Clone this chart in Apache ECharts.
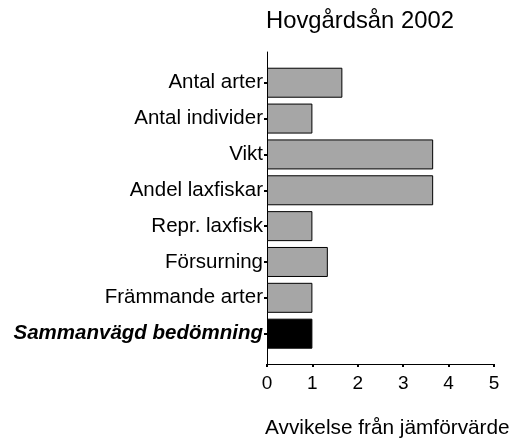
<!DOCTYPE html>
<html><head><meta charset="utf-8">
<script src="https://cdn.jsdelivr.net/npm/echarts@6/dist/echarts.min.js"></script>
<style>html,body{margin:0;padding:0;background:#fff}#c{width:512px;height:441px}</style>
</head><body><div id="c"></div>
<script>
const categories = ["Antal arter","Antal individer","Vikt","Andel laxfiskar","Repr. laxfisk","Försurning","Främmande arter","Sammanvägd bedömning"];
const values = [1.66, 1.0, 3.66, 3.66, 1.0, 1.34, 1.0, 1.0];
const xTicks = [0, 5, 1];
const titleText = "Hovgårdsån 2002";
const axisTitle = "Avvikelse från jämförvärde";

const FONT = "Liberation Sans, Arial, sans-serif";
const chart = echarts.init(document.getElementById('c'), null, {renderer:'canvas'});
const cats = categories.slice().reverse();
const vals = values.slice().reverse();
chart.setOption({
  animation:false,
  backgroundColor:'#fff',
  title:[
    {text:titleText, left:266, top:9, padding:0, textStyle:{fontFamily:FONT, fontSize:23.8, fontWeight:'normal', color:'#000'}},
    {text:axisTitle, left:265, top:418, padding:0, textStyle:{fontFamily:FONT, fontSize:20.8, fontWeight:'normal', color:'#000'}}
  ],
  grid:[
    {left:267, top:52, width:227, height:312},
    {left:267, top:64.8, width:227, height:286.8}
  ],
  xAxis:[
    {gridIndex:0, type:'value', min:xTicks[0], max:xTicks[1], interval:xTicks[2],
     axisLine:{show:true, lineStyle:{color:'#000', width:1}},
     axisTick:{show:true, length:3, lineStyle:{color:'#000', width:2}},
     splitLine:{show:false},
     axisLabel:{fontFamily:FONT, fontSize:19, color:'#000', margin:10}},
    {gridIndex:1, type:'value', min:xTicks[0], max:xTicks[1], show:false, splitLine:{show:false}}
  ],
  yAxis:[
    {gridIndex:0, type:'value', min:0, max:1, axisLine:{show:true, lineStyle:{color:'#000', width:1}},
     axisTick:{show:false}, axisLabel:{show:false}, splitLine:{show:false}},
    {gridIndex:1, type:'category', data:cats,
     axisLine:{show:false}, axisTick:{show:true, alignWithLabel:true, length:3, lineStyle:{color:'#000', width:2}},
     axisLabel:{fontFamily:FONT, fontSize:20.5, color:'#000', margin:4,
       formatter:(v)=> v==='Sammanvägd bedömning' ? '{b|'+v+'}' : v,
       rich:{b:{fontFamily:FONT, fontSize:20.5, fontWeight:'bold', fontStyle:'italic', color:'#000'}}}}
  ],
  series:[{
    type:'bar', xAxisIndex:1, yAxisIndex:1, barWidth:30,
    data: vals.map((v,i)=>({value:v, itemStyle:{color: cats[i]==='Sammanvägd bedömning' ? '#000' : '#a6a6a6'}})),
    itemStyle:{borderColor:'#000', borderWidth:1}
  }]
});
</script></body></html>
